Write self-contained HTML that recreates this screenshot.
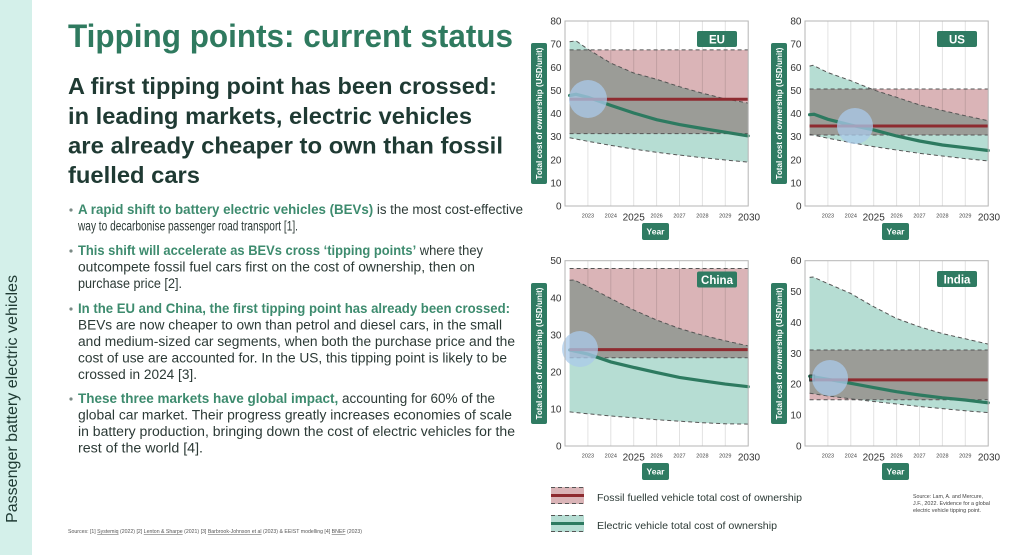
<!DOCTYPE html>
<html><head><meta charset="utf-8">
<style>
html,body{margin:0;padding:0;background:#fff;}
body{width:1024px;height:555px;overflow:hidden;}
svg{display:block;}
text{font-family:"Liberation Sans",sans-serif;}
.yt{font-size:10px;fill:#333;text-anchor:end;}
.xs{font-size:5.5px;fill:#444;text-anchor:middle;}
.xl{font-size:10px;fill:#333;text-anchor:middle;}
.grid{stroke:#e2e2e2;stroke-width:1;}
.frame{fill:none;stroke:#b5b5b5;stroke-width:1;}
.ev{fill:#b6ddd3;}
.fos{fill:#dab4b7;mix-blend-mode:multiply;}
.dash{fill:none;stroke:#555;stroke-width:1;stroke-dasharray:4 3;}
.red{stroke:#8e2b30;stroke-width:3;fill:none;}
.grn{stroke:#2d7a60;stroke-width:3.2;fill:none;stroke-linecap:round;}
.circ{fill:#a9c9ea;opacity:0.75;}
.badge{fill:#2f7b62;}
.bt{fill:#fff;font-weight:bold;text-anchor:middle;}
.body{font-size:13.5px;fill:#2c3a36;}
.g{fill:#3d8b6e;font-weight:bold;}
</style></head>
<body>
<svg width="1024" height="555" viewBox="0 0 1024 555" xmlns="http://www.w3.org/2000/svg">
<rect x="0" y="0" width="1024" height="555" fill="#fff"/>
<!-- sidebar -->
<rect x="0" y="0" width="32" height="555" fill="#d4f0ea"/>
<text transform="translate(17,523) rotate(-90)" font-size="15.5" fill="#1f3a33" textLength="248" lengthAdjust="spacingAndGlyphs">Passenger battery electric vehicles</text>

<!-- title -->
<text x="68" y="47" font-size="32" font-weight="bold" fill="#2f7a5f" textLength="445" lengthAdjust="spacingAndGlyphs">Tipping points: current status</text>
<g font-size="23.5" font-weight="bold" fill="#1f3a33">
<text x="68" y="94" textLength="429" lengthAdjust="spacingAndGlyphs">A first tipping point has been crossed:</text>
<text x="68" y="124" textLength="404" lengthAdjust="spacingAndGlyphs">in leading markets, electric vehicles</text>
<text x="68" y="153.5" textLength="435" lengthAdjust="spacingAndGlyphs">are already cheaper to own than fossil</text>
<text x="68" y="183" textLength="132" lengthAdjust="spacingAndGlyphs">fuelled cars</text>
</g>

<!-- bullets -->
<g fill="#7a8a85">
<circle cx="71" cy="210" r="1.6"/>
<circle cx="71" cy="251" r="1.6"/>
<circle cx="71" cy="309" r="1.6"/>
<circle cx="71" cy="399" r="1.6"/>
</g>
<g class="body">
<text x="78" y="214" textLength="445" lengthAdjust="spacingAndGlyphs"><tspan class="g">A rapid shift to battery electric vehicles (BEVs)</tspan> is the most cost-effective</text>
<text x="78" y="230.6" textLength="220" lengthAdjust="spacingAndGlyphs">way to decarbonise passenger road transport [1].</text>

<text x="78" y="255" textLength="405" lengthAdjust="spacingAndGlyphs"><tspan class="g">This shift will accelerate as BEVs cross ‘tipping points’</tspan> where they</text>
<text x="78" y="271.6" textLength="397" lengthAdjust="spacingAndGlyphs">outcompete fossil fuel cars first on the cost of ownership, then on</text>
<text x="78" y="288" textLength="104" lengthAdjust="spacingAndGlyphs">purchase price [2].</text>

<text x="78" y="313" textLength="432" lengthAdjust="spacingAndGlyphs"><tspan class="g">In the EU and China, the first tipping point has already been crossed:</tspan></text>
<text x="78" y="329.6" textLength="424" lengthAdjust="spacingAndGlyphs">BEVs are now cheaper to own than petrol and diesel cars, in the small</text>
<text x="78" y="346" textLength="437" lengthAdjust="spacingAndGlyphs">and medium-sized car segments, when both the purchase price and the</text>
<text x="78" y="362.6" textLength="429" lengthAdjust="spacingAndGlyphs">cost of use are accounted for. In the US, this tipping point is likely to be</text>
<text x="78" y="379" textLength="119" lengthAdjust="spacingAndGlyphs">crossed in 2024 [3].</text>

<text x="78" y="403" textLength="417" lengthAdjust="spacingAndGlyphs"><tspan class="g">These three markets have global impact,</tspan> accounting for 60% of the</text>
<text x="78" y="419.6" textLength="434" lengthAdjust="spacingAndGlyphs">global car market. Their progress greatly increases economies of scale</text>
<text x="78" y="436" textLength="437" lengthAdjust="spacingAndGlyphs">in battery production, bringing down the cost of electric vehicles for the</text>
<text x="78" y="452.6" textLength="125" lengthAdjust="spacingAndGlyphs">rest of the world [4].</text>
</g>

<text x="68" y="533" font-size="5" fill="#555" textLength="294" lengthAdjust="spacingAndGlyphs">Sources: [1] <tspan text-decoration="underline">Systemiq</tspan> (2022) [2] <tspan text-decoration="underline">Lenton &amp; Sharpe</tspan> (2021) [3] <tspan text-decoration="underline">Barbrook-Johnson et al</tspan> (2023) &amp; EEIST modelling [4] <tspan text-decoration="underline">BNEF</tspan> (2023)</text>

<!-- ========== EU ========== -->
<g>
<g class="grid">
<line x1="587.9" y1="21" x2="587.9" y2="206"/><line x1="610.8" y1="21" x2="610.8" y2="206"/><line x1="633.7" y1="21" x2="633.7" y2="206"/><line x1="656.6" y1="21" x2="656.6" y2="206"/><line x1="679.5" y1="21" x2="679.5" y2="206"/><line x1="702.4" y1="21" x2="702.4" y2="206"/><line x1="725.3" y1="21" x2="725.3" y2="206"/>
</g>
<polygon class="ev" points="569.6,41.8 576,40.8 587.9,49.2 610.8,63.1 633.7,73.0 656.6,79.3 679.5,86.7 702.4,93.2 725.3,98.9 748.2,103.1 748.2,162.1 725.3,160 702.4,157.7 679.5,155.1 656.6,152.3 633.7,149.1 610.8,145.4 587.9,141.3 569.6,137.8"/>
<rect class="fos" x="569.6" y="49.9" width="178.6" height="83.7"/>
<polyline class="dash" points="569.6,41.8 576,40.8 587.9,49.2 610.8,63.1 633.7,73.0 656.6,79.3 679.5,86.7 702.4,93.2 725.3,98.9 748.2,103.1"/>
<polyline class="dash" points="569.6,137.8 587.9,141.3 610.8,145.4 633.7,149.1 656.6,152.3 679.5,155.1 702.4,157.7 725.3,160 748.2,162.1"/>
<line class="dash" x1="569.6" y1="49.9" x2="748.2" y2="49.9"/>
<line class="dash" x1="569.6" y1="133.6" x2="748.2" y2="133.6"/>
<polyline class="grn" points="569.6,95.5 576,94.3 587.9,97.3 610.8,105.4 633.7,113 656.6,119.7 679.5,124.6 702.4,128.5 725.3,132.2 748.2,135.9"/>
<line class="red" x1="569.6" y1="99.2" x2="748.2" y2="99.2"/>
<circle class="circ" cx="588" cy="99" r="19"/>
<rect class="frame" x="565" y="21" width="183.2" height="185"/>
<g class="yt"><text x="561.5" y="209.5">0</text><text x="561.5" y="186.4">10</text><text x="561.5" y="163.3">20</text><text x="561.5" y="140.1">30</text><text x="561.5" y="117">40</text><text x="561.5" y="93.9">50</text><text x="561.5" y="70.8">60</text><text x="561.5" y="47.6">70</text><text x="561.5" y="24.5">80</text></g>
<g class="xs"><text x="587.9" y="217.5">2023</text><text x="610.8" y="217.5">2024</text><text x="656.6" y="217.5">2026</text><text x="679.5" y="217.5">2027</text><text x="702.4" y="217.5">2028</text><text x="725.3" y="217.5">2029</text></g>
<g class="xl"><text x="633.7" y="220.5">2025</text><text x="749" y="220.5">2030</text></g>
<rect class="badge" x="642" y="223" width="27" height="17" rx="2"/>
<text class="bt" x="655.5" y="234.7" font-size="8.5">Year</text>
<rect class="badge" x="531" y="43" width="16" height="141" rx="2"/>
<text class="bt" transform="translate(542,113.5) rotate(-90)" font-size="8.3" textLength="132" lengthAdjust="spacingAndGlyphs">Total cost of ownership (USD/unit)</text>
<rect class="badge" x="697" y="31" width="40" height="16" rx="2"/>
<text class="bt" x="717" y="43.3" font-size="11.5">EU</text>
</g>

<!-- ========== US ========== -->
<g>
<g class="grid">
<line x1="827.9" y1="21" x2="827.9" y2="206"/><line x1="850.8" y1="21" x2="850.8" y2="206"/><line x1="873.7" y1="21" x2="873.7" y2="206"/><line x1="896.6" y1="21" x2="896.6" y2="206"/><line x1="919.5" y1="21" x2="919.5" y2="206"/><line x1="942.4" y1="21" x2="942.4" y2="206"/><line x1="965.3" y1="21" x2="965.3" y2="206"/>
</g>
<polygon class="ev" points="809.6,66.1 813,65.3 827.9,72.6 850.8,80.7 873.7,89.9 896.6,97.3 919.5,104.9 942.4,110.5 965.3,115.8 988.2,120.7 988.2,160.9 965.3,158.6 942.4,156 919.5,153.3 896.6,150 873.7,146.6 850.8,142.6 827.9,138.2 809.6,134.3"/>
<rect class="fos" x="809.6" y="89" width="178.6" height="46"/>
<polyline class="dash" points="809.6,66.1 813,65.3 827.9,72.6 850.8,80.7 873.7,89.9 896.6,97.3 919.5,104.9 942.4,110.5 965.3,115.8 988.2,120.7"/>
<polyline class="dash" points="809.6,134.3 827.9,138.2 850.8,142.6 873.7,146.6 896.6,150 919.5,153.3 942.4,156 965.3,158.6 988.2,160.9"/>
<line class="dash" x1="809.6" y1="89" x2="988.2" y2="89"/>
<line class="dash" x1="809.6" y1="135" x2="988.2" y2="135"/>
<polyline class="grn" points="809.6,114.7 814,114.3 827.9,119.3 850.8,125.1 873.7,129.9 896.6,136 919.5,141 942.4,145 965.3,147.7 988.2,150.5"/>
<line class="red" x1="809.6" y1="126" x2="988.2" y2="126"/>
<circle class="circ" cx="855" cy="126" r="18"/>
<rect class="frame" x="805" y="21" width="183.2" height="185"/>
<g class="yt"><text x="801.5" y="209.5">0</text><text x="801.5" y="186.4">10</text><text x="801.5" y="163.3">20</text><text x="801.5" y="140.1">30</text><text x="801.5" y="117">40</text><text x="801.5" y="93.9">50</text><text x="801.5" y="70.8">60</text><text x="801.5" y="47.6">70</text><text x="801.5" y="24.5">80</text></g>
<g class="xs"><text x="827.9" y="217.5">2023</text><text x="850.8" y="217.5">2024</text><text x="896.6" y="217.5">2026</text><text x="919.5" y="217.5">2027</text><text x="942.4" y="217.5">2028</text><text x="965.3" y="217.5">2029</text></g>
<g class="xl"><text x="873.7" y="220.5">2025</text><text x="989" y="220.5">2030</text></g>
<rect class="badge" x="882" y="223" width="27" height="17" rx="2"/>
<text class="bt" x="895.5" y="234.7" font-size="8.5">Year</text>
<rect class="badge" x="771" y="43" width="16" height="141" rx="2"/>
<text class="bt" transform="translate(782,113.5) rotate(-90)" font-size="8.3" textLength="132" lengthAdjust="spacingAndGlyphs">Total cost of ownership (USD/unit)</text>
<rect class="badge" x="937" y="31" width="40" height="16" rx="2"/>
<text class="bt" x="957" y="43.3" font-size="11.5">US</text>
</g>

<!-- ========== China ========== -->
<g>
<g class="grid">
<line x1="587.9" y1="260.7" x2="587.9" y2="446"/><line x1="610.8" y1="260.7" x2="610.8" y2="446"/><line x1="633.7" y1="260.7" x2="633.7" y2="446"/><line x1="656.6" y1="260.7" x2="656.6" y2="446"/><line x1="679.5" y1="260.7" x2="679.5" y2="446"/><line x1="702.4" y1="260.7" x2="702.4" y2="446"/><line x1="725.3" y1="260.7" x2="725.3" y2="446"/>
</g>
<polygon class="ev" points="569.6,280.3 574,280 587.9,286.6 610.8,298.5 633.7,310 656.6,320 679.5,328.5 702.4,335.2 725.3,340.8 748.2,345.9 748.2,424.1 725.3,423.8 702.4,422.7 679.5,421.2 656.6,419.7 633.7,417.8 610.8,416 587.9,413.8 569.6,411.9"/>
<rect class="fos" x="569.6" y="268.5" width="178.6" height="89.3"/>
<polyline class="dash" points="569.6,280.3 574,280 587.9,286.6 610.8,298.5 633.7,310 656.6,320 679.5,328.5 702.4,335.2 725.3,340.8 748.2,345.9"/>
<polyline class="dash" points="569.6,411.9 587.9,413.8 610.8,416 633.7,417.8 656.6,419.7 679.5,421.2 702.4,422.7 725.3,423.8 748.2,424.1"/>
<line class="dash" x1="569.6" y1="268.5" x2="748.2" y2="268.5"/>
<line class="dash" x1="569.6" y1="357.8" x2="748.2" y2="357.8"/>
<polyline class="grn" points="569.6,350 587.9,354.1 610.8,361.9 633.7,367.4 656.6,372.6 679.5,377.4 702.4,380.8 725.3,384.1 748.2,386.7"/>
<line class="red" x1="569.6" y1="349.6" x2="748.2" y2="349.6"/>
<circle class="circ" cx="580" cy="349" r="18"/>
<rect class="frame" x="565" y="260.7" width="183.2" height="185.3"/>
<g class="yt"><text x="561.5" y="449.5">0</text><text x="561.5" y="412.4">10</text><text x="561.5" y="375.4">20</text><text x="561.5" y="338.3">30</text><text x="561.5" y="301.3">40</text><text x="561.5" y="264.2">50</text></g>
<g class="xs"><text x="587.9" y="457.5">2023</text><text x="610.8" y="457.5">2024</text><text x="656.6" y="457.5">2026</text><text x="679.5" y="457.5">2027</text><text x="702.4" y="457.5">2028</text><text x="725.3" y="457.5">2029</text></g>
<g class="xl"><text x="633.7" y="460.5">2025</text><text x="749" y="460.5">2030</text></g>
<rect class="badge" x="642" y="463" width="27" height="17" rx="2"/>
<text class="bt" x="655.5" y="474.7" font-size="8.5">Year</text>
<rect class="badge" x="531" y="283" width="16" height="141" rx="2"/>
<text class="bt" transform="translate(542,353.5) rotate(-90)" font-size="8.3" textLength="132" lengthAdjust="spacingAndGlyphs">Total cost of ownership (USD/unit)</text>
<rect class="badge" x="697" y="271.5" width="40" height="16" rx="2"/>
<text class="bt" x="717" y="283.8" font-size="11.5">China</text>
</g>

<!-- ========== India ========== -->
<g>
<g class="grid">
<line x1="827.9" y1="260.7" x2="827.9" y2="446"/><line x1="850.8" y1="260.7" x2="850.8" y2="446"/><line x1="873.7" y1="260.7" x2="873.7" y2="446"/><line x1="896.6" y1="260.7" x2="896.6" y2="446"/><line x1="919.5" y1="260.7" x2="919.5" y2="446"/><line x1="942.4" y1="260.7" x2="942.4" y2="446"/><line x1="965.3" y1="260.7" x2="965.3" y2="446"/>
</g>
<polygon class="ev" points="809.6,277.4 813,277 827.9,283.6 850.8,293.5 873.7,306.7 896.6,318.5 919.5,326.8 942.4,333.6 965.3,338.8 988.2,344.1 988.2,412.6 965.3,410.8 942.4,408.6 919.5,406.5 896.6,404 873.7,401.5 850.8,398.8 827.9,396 809.6,393.2"/>
<rect class="fos" x="809.6" y="350" width="178.6" height="49.7"/>
<polyline class="dash" points="809.6,277.4 813,277 827.9,283.6 850.8,293.5 873.7,306.7 896.6,318.5 919.5,326.8 942.4,333.6 965.3,338.8 988.2,344.1"/>
<polyline class="dash" points="809.6,393.2 827.9,396 850.8,398.8 873.7,401.5 896.6,404 919.5,406.5 942.4,408.6 965.3,410.8 988.2,412.6"/>
<line class="dash" x1="809.6" y1="350" x2="988.2" y2="350"/>
<line class="dash" x1="809.6" y1="399.7" x2="988.2" y2="399.7"/>
<polyline class="grn" points="809.6,376.2 827.9,379.3 850.8,383.3 873.7,387.6 896.6,391.7 919.5,395 942.4,397.8 965.3,400 988.2,402.8"/>
<line class="red" x1="809.6" y1="379.9" x2="988.2" y2="379.9"/>
<rect x="809.6" y="375" width="5" height="6" fill="none" stroke="#2a3a36" stroke-width="1"/>
<circle class="circ" cx="830" cy="378" r="18"/>
<rect class="frame" x="805" y="260.7" width="183.2" height="185.3"/>
<g class="yt"><text x="801.5" y="449.5">0</text><text x="801.5" y="418.6">10</text><text x="801.5" y="387.7">20</text><text x="801.5" y="356.9">30</text><text x="801.5" y="326">40</text><text x="801.5" y="295.1">50</text><text x="801.5" y="264.2">60</text></g>
<g class="xs"><text x="827.9" y="457.5">2023</text><text x="850.8" y="457.5">2024</text><text x="896.6" y="457.5">2026</text><text x="919.5" y="457.5">2027</text><text x="942.4" y="457.5">2028</text><text x="965.3" y="457.5">2029</text></g>
<g class="xl"><text x="873.7" y="460.5">2025</text><text x="989" y="460.5">2030</text></g>
<rect class="badge" x="882" y="463" width="27" height="17" rx="2"/>
<text class="bt" x="895.5" y="474.7" font-size="8.5">Year</text>
<rect class="badge" x="771" y="283" width="16" height="141" rx="2"/>
<text class="bt" transform="translate(782,353.5) rotate(-90)" font-size="8.3" textLength="132" lengthAdjust="spacingAndGlyphs">Total cost of ownership (USD/unit)</text>
<rect class="badge" x="937" y="271" width="40" height="16" rx="2"/>
<text class="bt" x="957" y="283.3" font-size="11.5">India</text>
</g>

<!-- legend -->
<rect x="551" y="487" width="33" height="17" fill="#dab4b7"/>
<line class="dash" x1="551" y1="487.5" x2="584" y2="487.5"/>
<line class="dash" x1="551" y1="503.5" x2="584" y2="503.5"/>
<line class="red" x1="551" y1="495.5" x2="584" y2="495.5"/>
<text x="597" y="501" font-size="10.5" fill="#2c3a36" textLength="205" lengthAdjust="spacingAndGlyphs">Fossil fuelled vehicle total cost of ownership</text>

<rect x="551" y="515" width="33" height="17" fill="#b6ddd3"/>
<line class="dash" x1="551" y1="515.5" x2="584" y2="515.5"/>
<line class="dash" x1="551" y1="531.5" x2="584" y2="531.5"/>
<line x1="551" y1="523.5" x2="584" y2="523.5" stroke="#2d7a60" stroke-width="3"/>
<text x="597" y="529" font-size="10.5" fill="#2c3a36" textLength="180" lengthAdjust="spacingAndGlyphs">Electric vehicle total cost of ownership</text>

<g font-size="5" fill="#444">
<text x="913" y="498" textLength="70" lengthAdjust="spacingAndGlyphs">Source: Lam, A. and Mercure,</text>
<text x="913" y="505" textLength="77" lengthAdjust="spacingAndGlyphs">J.F., 2022. Evidence for a global</text>
<text x="913" y="512" textLength="68" lengthAdjust="spacingAndGlyphs">electric vehicle tipping point.</text>
</g>
</svg>
</body></html>
